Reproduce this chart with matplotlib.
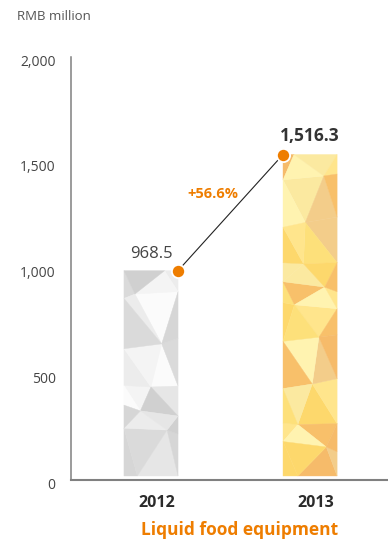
import matplotlib
matplotlib.use('Agg')
import matplotlib.pyplot as plt
import numpy as np
from matplotlib.patches import Polygon
from matplotlib.transforms import ScaledTranslation
import matplotlib.tri as mtri

years = ['2012', '2013']
values = [968.5, 1516.3]
value_labels = ['968.5', '1,516.3']
growth_label = '+56.6%'
yticks = [0, 500, 1000, 1500, 2000]
ytick_labels = ['0', '500', '1,000', '1,500', '2,000']
category = 'Liquid food equipment'
unit = 'RMB million'

orange = '#EE7D00'
grey_palette = ['#d6d6d6', '#e6e6e6', '#f4f4f4', '#dadada', '#fbfbfb', '#d0d0d0', '#ececec']
gold_palette = ['#fde07a', '#fff3b0', '#f8c06a', '#f3cd8a', '#fdd86c', '#fbe9a0', '#f6bb6a', '#ffe58c']

plt.rcParams['font.family'] = ['Open Sans', 'DejaVu Sans']

fig = plt.figure(figsize=(3.88, 5.40), dpi=100)
ax = fig.add_axes([71 / 388, 60 / 540, 1 - 71 / 388, 428 / 540])

x = np.arange(len(years))
width = 0.34
ax.set_xlim(-0.503, 1.49)
ax.set_ylim(-19, 2000)

# rough pixel aspect to keep facets from turning into slivers
aspect = (428 / 2019) / (317 / 1.993)


def low_poly(ax, xc, w, h, palette, seed):
    # decorative faceted fill inside a bar
    x0, x1 = xc - w / 2, xc + w / 2
    rows = max(3, int(round(h / 150)))
    ys = np.linspace(0, h, rows + 1)
    px, py = [], []
    for i, yy in enumerate(ys):
        cols = [x0, xc, x1]
        for j, xx in enumerate(cols):
            jx, jy = 0.0, 0.0
            if 0 < i < rows:
                jy = 0.4 * (h / rows) * np.sin((i * 3 + j + seed) * 12.9898)
            if j == 1:
                jx = 0.3 * w * np.sin((i * 7 + seed) * 4.1414)
            px.append(xx + jx)
            py.append(yy + jy)
    px, py = np.array(px), np.array(py)
    tri = mtri.Triangulation(px, py * aspect)
    for k, t in enumerate(tri.triangles):
        c = palette[(k * 3 + seed + (k // 4)) % len(palette)]
        ax.add_patch(Polygon(np.column_stack([px[t], py[t]]), closed=True,
                             facecolor=c, edgecolor=c, lw=0.3, zorder=2))


ax.bar(x, values, width, color='none', zorder=1)
low_poly(ax, x[0], width, values[0], grey_palette, 1)
low_poly(ax, x[1], width, values[1], gold_palette, 4)

# connector between bar tops
dot_x = [x[0] + width / 2, x[1] - width / 2]
ax.plot(dot_x, values, color='#222222', lw=0.8, zorder=3)
ax.plot(dot_x, values, 'o', color=orange, ms=9.5, mec='white', mew=1.3, zorder=4)

ax.text(x[0], values[0] + 40, value_labels[0], ha='center', va='bottom',
        fontsize=12, color='#444444')
ax.text(x[1], values[1] + 45, value_labels[1], ha='center', va='bottom',
        fontsize=12.5, fontweight='bold', color='#333333')
ax.annotate(growth_label, ((dot_x[0] + dot_x[1]) / 2, (values[0] + values[1]) / 2),
            xytext=(-13, 13.5), textcoords='offset points',
            ha='center', va='center', fontsize=10.5, fontweight='bold', color=orange)

ax.set_yticks(yticks)
ax.set_yticklabels(ytick_labels, fontsize=10, color='#444444')
ax.tick_params(axis='y', length=0, pad=11)
for lab in ax.get_yticklabels():
    lab.set_transform(lab.get_transform() + ScaledTranslation(0, -0.08, fig.dpi_scale_trans))

ax.set_xticks(x)
ax.set_xticklabels(years, fontsize=11.5, fontweight='bold', color='#2b2b2b')
ax.tick_params(axis='x', length=0, pad=11)
for lab in ax.get_xticklabels():
    lab.set_transform(lab.get_transform() + ScaledTranslation(0.06, 0, fig.dpi_scale_trans))

for s in ['top', 'right']:
    ax.spines[s].set_visible(False)
ax.spines['left'].set_color('#808080')
ax.spines['left'].set_linewidth(1.1)
ax.spines['left'].set_bounds(-19, 1975)
ax.spines['bottom'].set_color('#808080')
ax.spines['bottom'].set_linewidth(1.5)

fig.text(17 / 388, 1 - 17 / 540, unit, ha='left', va='center', fontsize=9.5, color='#555555')
fig.text(240 / 388, 1 - 530 / 540, category, ha='center', va='center',
         fontsize=12.5, fontweight='bold', color=orange)

fig.savefig('out.png', dpi=100)
